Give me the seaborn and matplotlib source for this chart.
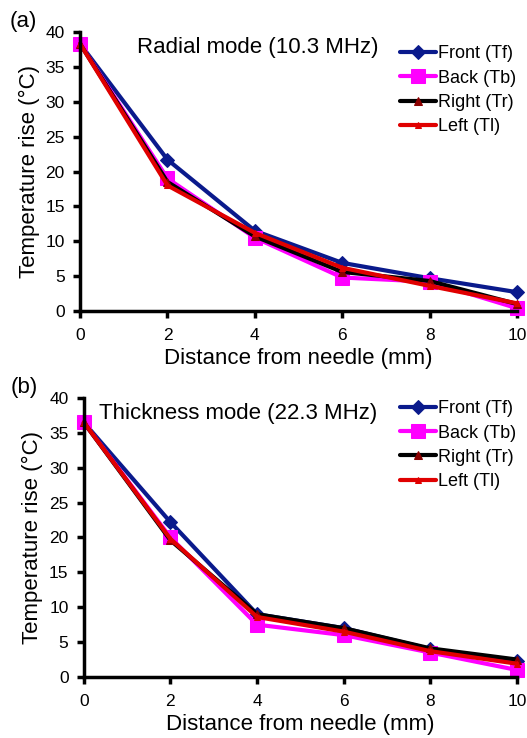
import pandas as pd
import matplotlib
matplotlib.use("Agg")
import matplotlib.pyplot as plt
import seaborn as sns

sns.set_style("ticks", {"axes.edgecolor": "black", "text.color": "black",
                        "axes.labelcolor": "black", "xtick.color": "black",
                        "ytick.color": "black"})
plt.rcParams['font.family'] = ['Liberation Sans', 'DejaVu Sans']

distance = [0, 2, 4, 6, 8, 10]
series_names = ["Front (Tf)", "Back (Tb)", "Right (Tr)", "Left (Tl)"]

# Radial mode (10.3 MHz)
radial_front = [38.3, 21.7, 11.5, 6.9, 4.7, 2.7]
radial_back = [38.3, 19.0, 10.5, 4.8, 4.2, 0.4]
radial_right = [38.3, 18.5, 10.7, 5.6, 4.3, 1.0]
radial_left = [38.3, 18.0, 11.2, 6.2, 3.6, 1.1]

# Thickness mode (22.3 MHz)
thick_front = [36.5, 22.2, 9.0, 7.0, 4.0, 2.3]
thick_back = [36.5, 20.0, 7.5, 6.0, 3.5, 1.0]
thick_right = [36.5, 19.6, 9.0, 7.0, 4.1, 2.5]
thick_left = [36.5, 19.8, 8.6, 6.5, 3.7, 1.9]

styles = {
    "Front (Tf)": dict(color="#0a1a8c", marker="D", ms=7, mfc="#0a1a8c", mec="#0a1a8c"),
    "Back (Tb)": dict(color="#ff00ff", marker="s", ms=10, mfc="#ff00ff", mec="#ff00ff"),
    "Right (Tr)": dict(color="black", marker="^", ms=6, mfc="#8b0000", mec="#8b0000"),
    "Left (Tl)": dict(color="#e00000", marker="^", ms=4, mfc="#e00000", mec="#e00000"),
}


def draw(ax, vals, title, title_x, leg_y):
    for name, v in zip(series_names, vals):
        st = styles[name]
        df = pd.DataFrame({"x": distance, "y": v})
        sns.lineplot(data=df, x="x", y="y", ax=ax, color=st["color"], lw=3,
                     marker=st["marker"], markersize=st["ms"],
                     markerfacecolor=st["mfc"], markeredgecolor=st["mec"],
                     label=name)
    ax.set_xlim(0, 10)
    ax.set_ylim(0, 40)
    ax.set_xticks(distance)
    ax.set_yticks(range(0, 41, 5))
    ax.tick_params(direction="out", length=5, width=2.5, labelsize=12.5, pad=6)
    ax.tick_params(axis="x", pad=7)
    for s in ["left", "bottom"]:
        ax.spines[s].set_linewidth(2.5)
    ax.spines["top"].set_visible(False)
    ax.spines["right"].set_visible(False)
    ax.set_xlabel("Distance from needle (mm)", fontsize=16, labelpad=4)
    ax.set_ylabel("Temperature rise (°C)", fontsize=16, labelpad=4)
    ax.text(title_x, 0.945, title, transform=ax.transAxes, fontsize=16, va="center", ha="left")
    leg = ax.legend(loc="upper right", bbox_to_anchor=(1.035, leg_y), frameon=False,
                    fontsize=13, handlelength=2.0, handletextpad=0.1, labelspacing=0.4)
    for line in leg.get_lines():
        line.set_linewidth(3)
    for ln in ax.get_lines():
        ln.set_clip_on(False)


fig = plt.figure(figsize=(5.27, 7.38), dpi=100)
ax1 = fig.add_axes([0.152, 0.5786, 0.829, 0.378])
ax2 = fig.add_axes([0.159, 0.0827, 0.822, 0.378])

draw(ax1, [radial_front, radial_back, radial_right, radial_left],
     "Radial mode (10.3 MHz)", 0.13, 1.01)
draw(ax2, [thick_front, thick_back, thick_right, thick_left],
     "Thickness mode (22.3 MHz)", 0.035, 1.05)

fig.text(10 / 527, 1 - 21 / 738, "(a)", fontsize=16, va="center", ha="left")
fig.text(11 / 527, 1 - 388 / 738, "(b)", fontsize=16, va="center", ha="left")

fig.savefig("out.png", dpi=100)
